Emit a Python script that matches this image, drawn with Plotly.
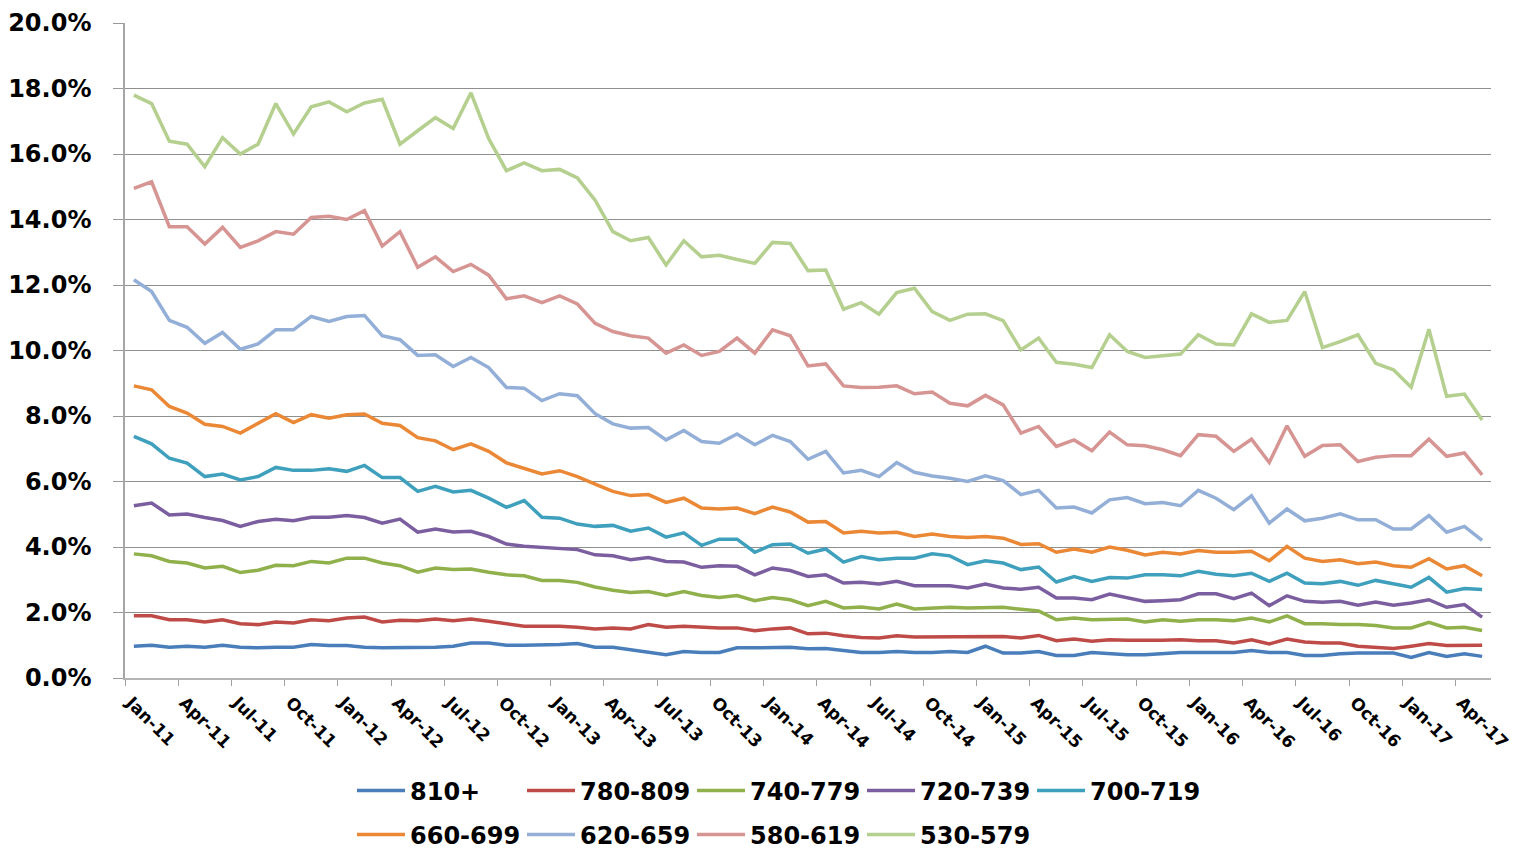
import plotly.graph_objects as go

# Monthly share (%) by credit-score band, Jan-2011 .. May-2017 (77 months)
months = [f"{m}-{y:02d}" for y in range(11, 18)
          for m in ["Jan", "Feb", "Mar", "Apr", "May", "Jun",
                    "Jul", "Aug", "Sep", "Oct", "Nov", "Dec"]][:77]

band_810_plus = [
    0.97, 1.00, 0.94, 0.97, 0.94, 1.00, 0.94, 0.92, 0.94, 0.94, 1.02, 0.99, 0.99, 0.94, 0.92, 0.92,
    0.92, 0.94, 0.97, 1.07, 1.07, 1.00, 1.00, 1.00, 1.02, 1.05, 0.94, 0.94, 0.86, 0.78, 0.71, 0.81,
    0.78, 0.78, 0.92, 0.92, 0.92, 0.94, 0.89, 0.90, 0.84, 0.78, 0.78, 0.81, 0.78, 0.78, 0.81, 0.78,
    0.97, 0.76, 0.76, 0.81, 0.69, 0.69, 0.78, 0.74, 0.71, 0.71, 0.74, 0.78, 0.78, 0.78, 0.78, 0.84,
    0.78, 0.78, 0.69, 0.69, 0.74, 0.76, 0.76, 0.76, 0.63, 0.78, 0.66, 0.74, 0.66]
band_780_809 = [
    1.90, 1.90, 1.78, 1.78, 1.71, 1.78, 1.66, 1.63, 1.71, 1.68, 1.78, 1.75, 1.83, 1.86, 1.71, 1.76,
    1.75, 1.80, 1.75, 1.80, 1.73, 1.65, 1.58, 1.58, 1.58, 1.55, 1.50, 1.53, 1.50, 1.63, 1.55, 1.58,
    1.55, 1.53, 1.53, 1.44, 1.50, 1.53, 1.35, 1.37, 1.29, 1.24, 1.22, 1.29, 1.25, 1.25, 1.27, 1.27,
    1.27, 1.27, 1.22, 1.30, 1.14, 1.19, 1.12, 1.17, 1.15, 1.14, 1.15, 1.17, 1.14, 1.14, 1.07, 1.17,
    1.04, 1.19, 1.10, 1.07, 1.07, 0.97, 0.94, 0.90, 0.97, 1.05, 0.99, 1.00, 1.00]
band_740_779 = [
    3.79, 3.73, 3.56, 3.51, 3.36, 3.41, 3.22, 3.29, 3.44, 3.43, 3.56, 3.51, 3.66, 3.66, 3.51, 3.43,
    3.23, 3.36, 3.31, 3.33, 3.23, 3.15, 3.12, 2.98, 2.98, 2.92, 2.78, 2.68, 2.61, 2.64, 2.52, 2.64,
    2.52, 2.46, 2.52, 2.36, 2.46, 2.39, 2.21, 2.34, 2.14, 2.17, 2.11, 2.26, 2.11, 2.14, 2.16, 2.14,
    2.14, 2.16, 2.10, 2.05, 1.78, 1.83, 1.78, 1.80, 1.80, 1.71, 1.78, 1.73, 1.78, 1.78, 1.75, 1.83,
    1.71, 1.90, 1.66, 1.66, 1.63, 1.63, 1.60, 1.53, 1.53, 1.70, 1.53, 1.55, 1.45]
band_720_739 = [
    5.26, 5.34, 4.98, 5.01, 4.90, 4.81, 4.63, 4.78, 4.85, 4.80, 4.91, 4.91, 4.96, 4.90, 4.73, 4.85,
    4.45, 4.55, 4.46, 4.48, 4.32, 4.09, 4.02, 3.99, 3.97, 3.92, 3.76, 3.73, 3.61, 3.68, 3.56, 3.54,
    3.38, 3.43, 3.41, 3.15, 3.36, 3.28, 3.10, 3.15, 2.90, 2.92, 2.87, 2.95, 2.82, 2.82, 2.82, 2.75,
    2.87, 2.75, 2.71, 2.77, 2.44, 2.44, 2.39, 2.56, 2.46, 2.34, 2.36, 2.39, 2.57, 2.57, 2.42, 2.59,
    2.21, 2.51, 2.34, 2.31, 2.34, 2.22, 2.32, 2.22, 2.29, 2.39, 2.16, 2.24, 1.86]
band_700_719 = [
    7.38, 7.15, 6.71, 6.56, 6.15, 6.23, 6.05, 6.15, 6.43, 6.34, 6.34, 6.39, 6.31, 6.49, 6.12, 6.12,
    5.70, 5.85, 5.68, 5.73, 5.49, 5.21, 5.42, 4.91, 4.88, 4.70, 4.63, 4.66, 4.48, 4.58, 4.30, 4.43,
    4.05, 4.24, 4.24, 3.84, 4.07, 4.09, 3.81, 3.94, 3.54, 3.71, 3.61, 3.66, 3.66, 3.79, 3.73, 3.46,
    3.58, 3.51, 3.31, 3.39, 2.93, 3.10, 2.95, 3.07, 3.05, 3.15, 3.15, 3.12, 3.26, 3.17, 3.12, 3.20,
    2.95, 3.20, 2.90, 2.88, 2.95, 2.83, 2.98, 2.87, 2.77, 3.07, 2.62, 2.73, 2.70]
band_660_699 = [
    8.92, 8.80, 8.29, 8.09, 7.75, 7.68, 7.48, 7.76, 8.07, 7.80, 8.04, 7.93, 8.04, 8.06, 7.78, 7.71,
    7.34, 7.24, 6.97, 7.15, 6.92, 6.57, 6.41, 6.23, 6.33, 6.15, 5.92, 5.70, 5.57, 5.60, 5.36, 5.49,
    5.19, 5.16, 5.19, 5.02, 5.22, 5.07, 4.76, 4.78, 4.43, 4.48, 4.43, 4.45, 4.32, 4.40, 4.32, 4.29,
    4.32, 4.27, 4.08, 4.10, 3.84, 3.94, 3.84, 4.00, 3.90, 3.76, 3.84, 3.79, 3.89, 3.84, 3.84, 3.87,
    3.58, 4.02, 3.66, 3.56, 3.61, 3.49, 3.54, 3.43, 3.38, 3.64, 3.33, 3.43, 3.12]
band_620_659 = [
    12.16, 11.80, 10.92, 10.71, 10.22, 10.55, 10.04, 10.20, 10.63, 10.63, 11.04, 10.89, 11.04, 11.07,
    10.45, 10.33, 9.85, 9.87, 9.51, 9.79, 9.48, 8.87, 8.85, 8.47, 8.68, 8.62, 8.07, 7.76, 7.63, 7.65,
    7.27, 7.56, 7.22, 7.17, 7.45, 7.12, 7.41, 7.22, 6.68, 6.92, 6.26, 6.34, 6.15, 6.58, 6.28, 6.17,
    6.10, 6.00, 6.17, 6.03, 5.60, 5.73, 5.19, 5.22, 5.04, 5.44, 5.51, 5.32, 5.36, 5.26, 5.73, 5.49,
    5.14, 5.56, 4.73, 5.16, 4.80, 4.88, 5.01, 4.83, 4.83, 4.55, 4.55, 4.96, 4.45, 4.63, 4.20]
band_580_619 = [
    14.95, 15.15, 13.78, 13.78, 13.25, 13.76, 13.15, 13.35, 13.63, 13.55, 14.06, 14.10, 14.00, 14.27,
    13.19, 13.63, 12.54, 12.86, 12.41, 12.63, 12.30, 11.58, 11.67, 11.46, 11.67, 11.42, 10.83, 10.58,
    10.45, 10.38, 9.92, 10.17, 9.85, 9.97, 10.38, 9.92, 10.63, 10.45, 9.53, 9.59, 8.92, 8.87, 8.88,
    8.92, 8.68, 8.73, 8.39, 8.31, 8.63, 8.34, 7.48, 7.68, 7.07, 7.27, 6.94, 7.51, 7.12, 7.09, 6.97,
    6.79, 7.43, 7.38, 6.92, 7.29, 6.58, 7.70, 6.77, 7.10, 7.12, 6.61, 6.74, 6.79, 6.79, 7.29, 6.77,
    6.87, 6.20]
band_530_579 = [
    17.80, 17.54, 16.39, 16.30, 15.61, 16.50, 16.00, 16.30, 17.54, 16.61, 17.44, 17.59, 17.29, 17.56,
    17.67, 16.30, 16.71, 17.11, 16.78, 17.87, 16.47, 15.49, 15.73, 15.49, 15.53, 15.27, 14.59, 13.63,
    13.35, 13.45, 12.61, 13.35, 12.86, 12.91, 12.78, 12.66, 13.30, 13.27, 12.44, 12.46, 11.26, 11.46,
    11.11, 11.77, 11.90, 11.19, 10.92, 11.11, 11.12, 10.91, 10.02, 10.38, 9.64, 9.58, 9.48, 10.48,
    9.97, 9.79, 9.84, 9.89, 10.48, 10.20, 10.17, 11.12, 10.86, 10.92, 11.80, 10.09, 10.27, 10.48,
    9.61, 9.41, 8.88, 10.65, 8.60, 8.67, 7.88]

series = [
    ("810+", band_810_plus, "#4a7ebb"),
    ("780-809", band_780_809, "#be4b48"),
    ("740-779", band_740_779, "#8fb04a"),
    ("720-739", band_720_739, "#7b5ea0"),
    ("700-719", band_700_719, "#3fa0bd"),
    ("660-699", band_660_699, "#ea8836"),
    ("620-659", band_620_659, "#93afd8"),
    ("580-619", band_580_619, "#d69593"),
    ("530-579", band_530_579, "#b4cf8e"),
]

# Quarterly tick labels sit on the category boundaries
tick_labels = [months[k] for k in range(0, 77, 3)]
tick_pos = [k - 0.5 for k in range(0, 77, 3)]

y_ticks = [0, 2, 4, 6, 8, 10, 12, 14, 16, 18, 20]
y_labels = ["0.0%", "2.0%", "4.0%", "6.0%", "8.0%", "10.0%",
            "12.0%", "14.0%", "16.0%", "18.0%", "20.0%"]

x_idx = list(range(len(months)))
FONT = "DejaVu Sans"

fig = go.Figure()
for n, (name, vals, color) in enumerate(series):
    fig.add_trace(go.Scatter(
        x=x_idx, y=vals, name=name, mode="lines",
        line=dict(color=color, width=3.5),
        customdata=months, hovertemplate="%{customdata}: %{y:.2f}%<extra>" + name + "</extra>",
        legend="legend" if n < 5 else "legend2",
    ))

legend_common = dict(
    orientation="h", xref="container", yref="container",
    xanchor="left", yanchor="middle", x=0.2325,
    font=dict(family=FONT, size=24, color="#000000", weight="bold"),
    itemwidth=48, entrywidth=107, entrywidthmode="pixels",
    bgcolor="rgba(0,0,0,0)", tracegroupgap=0,
)

fig.update_layout(
    width=1514, height=851,
    margin=dict(l=125, r=23, t=23, b=173, pad=0),
    paper_bgcolor="white", plot_bgcolor="white",
    font=dict(family=FONT, color="#000000"),
    showlegend=True,
    legend=dict(y=0.0705, **legend_common),
    legend2=dict(y=0.019, **legend_common),
    xaxis=dict(
        range=[-0.5, 76.5], tickmode="array", tickvals=tick_pos, ticktext=tick_labels,
        tickangle=45, ticks="outside", ticklen=6, tickcolor="#a0a0a0", tickwidth=1,
        showgrid=False, zeroline=False, showline=True, linecolor="#b4b4b4", linewidth=2,
        tickfont=dict(family=FONT, size=17, color="#000000", weight="bold"),
        ticklabelshift=6, ticklabeloverflow="allow", automargin=False,
    ),
    yaxis=dict(
        range=[0, 20], tickmode="array", tickvals=y_ticks, ticktext=y_labels,
        ticks="outside", ticklen=10, tickcolor="#999999",
        showgrid=True, gridcolor="#8f8f8f", gridwidth=1, zeroline=False,
        showline=True, linecolor="#a6a6a6", linewidth=1.5,
        tickfont=dict(family=FONT, size=24, color="#000000", weight="bold"),
        ticklabelstandoff=17, automargin=False,
    ),
)

fig.write_html("out.html")
